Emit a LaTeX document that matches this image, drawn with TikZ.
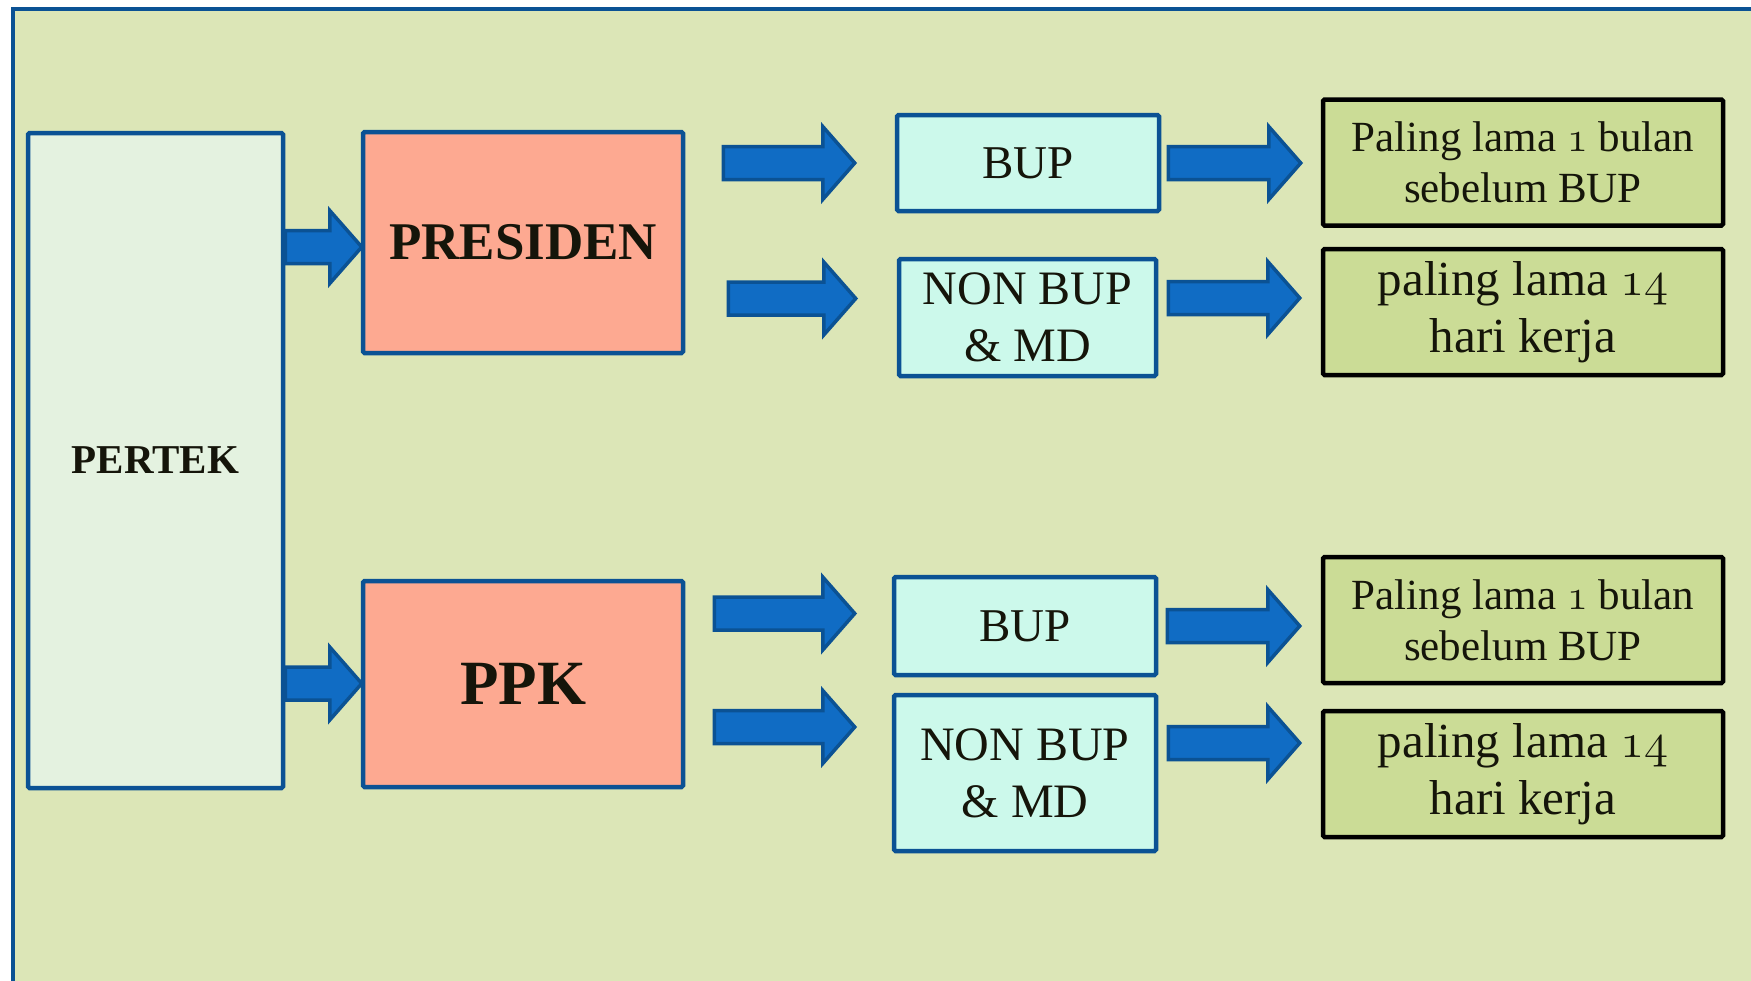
\documentclass[tikz,border=0pt]{standalone}
\usepackage{fontspec}
\setmainfont{Liberation Serif}
\usetikzlibrary{calc}

\definecolor{pagebg}{HTML}{DCE6B7}
\definecolor{frameblue}{HTML}{0B5294}
\definecolor{arrowfill}{HTML}{106CC4}
\definecolor{arrowedge}{HTML}{0B5294}
\definecolor{pertekfill}{HTML}{E4F2E0}
\definecolor{chieffill}{HTML}{FDA991}
\definecolor{casefill}{HTML}{CCF9EB}
\definecolor{termfill}{HTML}{CBDC96}
\definecolor{textdark}{HTML}{15150A}

% old-style figures at the two sizes used in the deadline boxes
\font\oldfigsmall=cmmi12 at 43pt
\font\oldfiglarge=cmmi12 at 49pt

\tikzset{
  box/.style={rectangle, inner sep=0pt, rounded corners=1.5pt, text=textdark, align=center},
  bluebox/.style={box, draw=frameblue, line width=4.5pt},
  termbox/.style={box, draw=black, line width=4.5pt, fill=termfill,
    minimum width=400pt, minimum height=126pt},
  casebox/.style={bluebox, fill=casefill},
  chiefbox/.style={bluebox, fill=chieffill, minimum width=320pt},
  % block arrow: {y of the axis}{gap after start anchor}{gap before target anchor}
  blockarrow/.style n args={3}{draw=arrowedge, fill=arrowfill, line width=3.5pt,
    line join=miter,
    to path={let \p1=(\tikztostart), \p2=(\tikztotarget), \p3=(0,#1) in
      ({\x1+#2pt},{\y3+16.5pt}) -- ({\x2-#3pt-32pt},{\y3+16.5pt})
      -- ({\x2-#3pt-32pt},{\y3+36.5pt}) -- ({\x2-#3pt},\y3)
      -- ({\x2-#3pt-32pt},{\y3-36.5pt}) -- ({\x2-#3pt-32pt},{\y3-16.5pt})
      -- ({\x1+#2pt},{\y3-16.5pt}) -- cycle}},
}

\begin{document}
\begin{tikzpicture}[x=1pt,y=-1pt]
\useasboundingbox (0,0) rectangle (1751,980);
\fill[white] (0,0) rectangle (1751,980);

% slide panel
\fill[pagebg] (13,9) rectangle (1770,1000);
\draw[frameblue, line width=4pt] (13,1000) -- (13,9) -- (1770,9);

% left column
\node[bluebox, fill=pertekfill, minimum width=255pt, minimum height=655pt,
  font=\bfseries\fontsize{41}{48}\selectfont] (pertek) at (155.5,460.5) {PERTEK};

% deciding officials
\node[chiefbox, minimum height=221pt, font=\bfseries\fontsize{53}{60}\selectfont]
  (pres) at (523,242.5) {PRESIDEN};
\node[chiefbox, minimum height=206pt, font=\bfseries\fontsize{63}{70}\selectfont]
  (ppk) at (523,684) {PPK};

% cases
\node[casebox, minimum width=262pt, minimum height=96pt, font=\fontsize{47}{54}\selectfont]
  (bupA) at (1028,163) {BUP};
\node[casebox, minimum width=257pt, minimum height=117pt, font=\fontsize{48}{57}\selectfont]
  (nonA) at (1027.5,317.5) {NON BUP\\\& MD};
\node[casebox, minimum width=262pt, minimum height=98pt, font=\fontsize{47}{54}\selectfont]
  (bupB) at (1025,626) {BUP};
\node[casebox, minimum width=262pt, minimum height=156pt, font=\fontsize{48}{57}\selectfont]
  (nonB) at (1025,773) {NON BUP\\\& MD};

% deadlines
\node[termbox, font=\fontsize{43}{51}\selectfont] (resA) at (1523,162.5)
  {Paling lama {\oldfigsmall 1} bulan\\sebelum BUP};
\node[termbox, font=\fontsize{49}{57}\selectfont] (resB) at (1523,312)
  {paling lama {\oldfiglarge 14}\\hari kerja};
\node[termbox, font=\fontsize{43}{51}\selectfont] (resC) at (1523,620)
  {Paling lama {\oldfigsmall 1} bulan\\sebelum BUP};
\node[termbox, font=\fontsize{49}{57}\selectfont] (resD) at (1523,774)
  {paling lama {\oldfiglarge 14}\\hari kerja};

% block arrows
\path[blockarrow={247}{0}{-1}] (pertek.east) to (pres.west);
\path[blockarrow={683.5}{0}{-1}] (pertek.east) to (ppk.west);

\path[blockarrow={163}{38}{40}] (pres.east) to (bupA.west);
\path[blockarrow={298.5}{43}{41}] (pres.east) to (nonA.west);
\path[blockarrow={613.5}{29}{37}] (ppk.east) to (bupB.west);
\path[blockarrow={727}{29}{37}] (ppk.east) to (nonB.west);

\path[blockarrow={163}{7}{20}] (bupA.east) to (resA.west);
\path[blockarrow={298}{10}{21}] (nonA.east) to (resB.west);
\path[blockarrow={626}{9}{21}] (bupB.east) to (resC.west);
\path[blockarrow={743}{10}{21}] (nonB.east) to (resD.west);
\end{tikzpicture}
\end{document}
